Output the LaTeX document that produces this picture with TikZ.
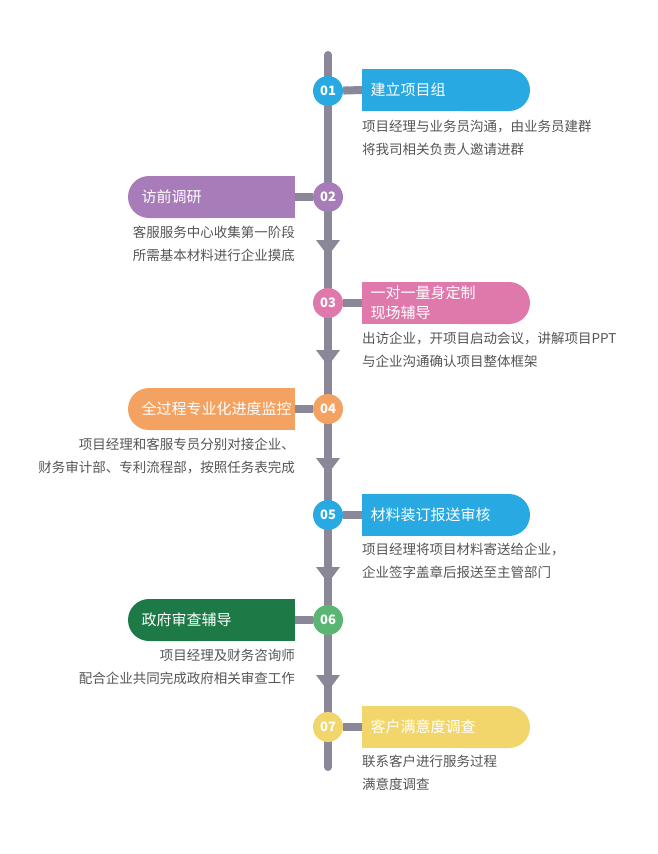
\documentclass[tikz,border=0pt]{standalone}
\usepackage{fontspec}
\setmainfont{Noto Sans CJK SC}
\begin{document}
\begin{tikzpicture}[x=1pt,y=-1pt]
\definecolor{cblue}{HTML}{29A9E1}
\definecolor{cpurple}{HTML}{A87CB8}
\definecolor{cpink}{HTML}{DF79AC}
\definecolor{corange}{HTML}{F4A261}
\definecolor{cgreen}{HTML}{1D7A47}
\definecolor{cgreenc}{HTML}{5BB673}
\definecolor{cyellow}{HTML}{F2D66C}
\definecolor{cline}{HTML}{8A8799}
\definecolor{ctext}{HTML}{555555}
\tikzset{
 num/.style={circle,minimum size=30pt,inner sep=0pt,fill=#1,text=white,font=\fontsize{13}{13}\selectfont\bfseries},
 title/.style={text=white,font=\fontsize{15}{19}\selectfont,align=left,anchor=west},
 titleL/.style={text=white,font=\fontsize{15}{19}\selectfont,anchor=west},
 desc/.style={text=ctext,font=\fontsize{13.5}{23}\selectfont,anchor=north west,align=left,inner sep=0pt},
 descL/.style={text=ctext,font=\fontsize{13.5}{23}\selectfont,anchor=north east,align=right,inner sep=0pt},
 link/.style={draw=cline,line width=8pt},
 tri/.style={fill=cline}
}
\useasboundingbox (0,0) rectangle (657,854);
\fill[white] (0,0) rectangle (657,854);
\coordinate (top) at (328,55);
\coordinate (bot) at (328,767);
\draw[cline,line width=8pt,line cap=round] (top) -- (bot);
% arrows
\foreach \y in {240,350,458,567,675}{
 \fill[tri] (316,\y) -- (340,\y) -- (328,\y+16) -- cycle;}
% right boxes
\newcommand\rbox[4]{%
 \fill[#2,rounded corners=21pt] (440,#1-21) rectangle (530,#1+21);
 \fill[#2] (362,#1-21) rectangle (470,#1+21);
 \coordinate (#3) at (362,#1);}
\newcommand\lbox[4]{%
 \fill[#2,rounded corners=21pt] (128,#1-21) rectangle (220,#1+21);
 \fill[#2] (190,#1-21) rectangle (295,#1+21);
 \coordinate (#3) at (295,#1);}
\rbox{90}{cblue}{b1}{}
\lbox{197}{cpurple}{b2}{}
\rbox{303}{cpink}{b3}{}
\lbox{409}{corange}{b4}{}
\rbox{515}{cblue}{b5}{}
\lbox{620}{cgreen}{b6}{}
\rbox{727}{cyellow}{b7}{}
\node[num=cblue] (c1) at (328,91) {01};
\node[num=cpurple] (c2) at (328,197) {02};
\node[num=cpink] (c3) at (328,303) {03};
\node[num=corange] (c4) at (328,409) {04};
\node[num=cblue] (c5) at (328,515) {05};
\node[num=cgreenc] (c6) at (328,620) {06};
\node[num=cyellow] (c7) at (328,727) {07};
\foreach \i in {1,...,7}{\draw[link] (c\i) -- (b\i);}
\node[title] (t1) at (367,90) {建立项目组};
\node[titleL] (t2) at (138,197) {访前调研};
\node[title,font=\fontsize{15}{20}\selectfont] (t3) at (367,303) {一对一量身定制\\现场辅导};
\node[titleL] (t4) at (138,409) {全过程专业化进度监控};
\node[title] (t5) at (367,515) {材料装订报送审核};
\node[titleL] (t6) at (138,620) {政府审查辅导};
\node[title] (t7) at (367,727) {客户满意度调查};
\node[desc] (d1) at (362,120) {项目经理与业务员沟通，由业务员建群\\将我司相关负责人邀请进群};
\node[descL] (d2) at (295,226) {客服服务中心收集第一阶段\\所需基本材料进行企业摸底};
\node[desc] (d3) at (362,332) {出访企业，开项目启动会议，讲解项目PPT\\与企业沟通确认项目整体框架};
\node[descL] (d4) at (295,438) {项目经理和客服专员分别对接企业、\\财务审计部、专利流程部，按照任务表完成};
\node[desc] (d5) at (362,543) {项目经理将项目材料寄送给企业，\\企业签字盖章后报送至主管部门};
\node[descL] (d6) at (295,649) {项目经理及财务咨询师\\配合企业共同完成政府相关审查工作};
\node[desc] (d7) at (362,755) {联系客户进行服务过程\\满意度调查};
\end{tikzpicture}
\end{document}
